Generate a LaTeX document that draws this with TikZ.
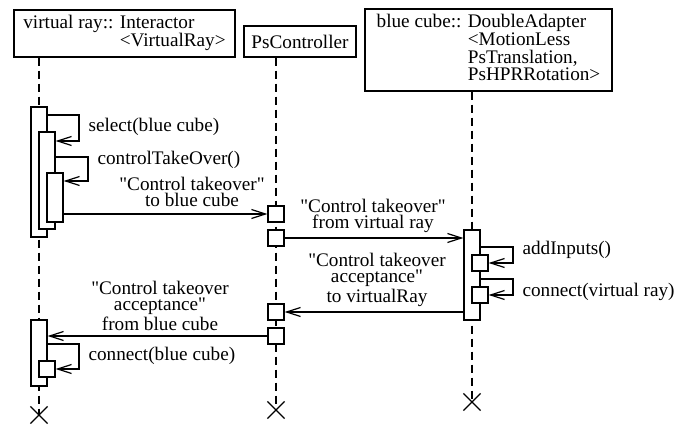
\documentclass[tikz,border=0pt]{standalone}
\usepackage{fontspec}
\setmainfont{Liberation Serif}
\usetikzlibrary{arrows.meta,shapes.misc}

\begin{document}
\begin{tikzpicture}[x=0.5pt, y=-0.5pt, line width=0.6pt,
    font={\fontsize{9.6}{8}\selectfont},
    obj/.style={draw, inner sep=0pt},
    actbar/.style={draw, fill=white, minimum width=8pt, inner sep=0pt},
    lifeline/.style={dash pattern=on 4pt off 2.5pt},
    kill/.style={draw, cross out, minimum size=8pt, inner sep=0pt},
    msg/.style={-{Straight Barb[length=7pt,width=4.5pt]}},
    lbl/.style={align=center, inner sep=0pt}]
    \useasboundingbox (0,0) rectangle (690,426);

    % objects
    \node[obj, minimum width=110.5pt, minimum height=23.5pt] (ray) at (124.5,33.5)
        {\begin{tabular}{@{}l@{ }l@{}}virtual ray::&Interactor\\&<VirtualRay>\end{tabular}};
    \node[obj, minimum width=56pt, minimum height=15.5pt] (ctl) at (300,41.5) {PsController};
    \node[obj, minimum width=123.5pt, minimum height=41pt] (cube) at (488.5,50)
        {\begin{tabular}{@{}l@{ }l@{}}blue cube::&DoubleAdapter\\&<MotionLess\\&PsTranslation,\\&PsHPRRotation>\end{tabular}};

    % lifelines
    \node[kill] (end1) at (39,415) {};
    \node[kill] (end2) at (276,410) {};
    \node[kill] (end3) at (472,402) {};
    \draw[lifeline] (ray.south -| end1) -- (end1.center);
    \draw[lifeline] (ctl.south -| end2) -- (end2.center);
    \draw[lifeline] (cube.south -| end3) -- (end3.center);

    % activations
    \node[actbar, minimum height=65pt] (a1) at (39,172) {};
    \node[actbar, minimum height=48.5pt] (a2) at (47,180.5) {};
    \node[actbar, minimum height=24.5pt] (a3) at (55,197.5) {};
    \node[actbar, minimum height=33pt] (a4) at (39,353) {};
    \node[actbar, minimum height=8pt] (a5) at (47,369) {};
    \node[actbar, minimum height=8pt] (p1) at (276,214) {};
    \node[actbar, minimum height=8pt] (p2) at (276,238) {};
    \node[actbar, minimum height=8pt] (p3) at (276,312) {};
    \node[actbar, minimum height=8pt] (p4) at (276,336) {};
    \node[actbar, minimum height=45pt] (b1) at (472,275) {};
    \node[actbar, minimum height=8pt] (b2) at (480,263) {};
    \node[actbar, minimum height=8pt] (b3) at (480,295) {};

    % messages
    \draw[msg] (a1.east |- 0,115) -| (79,141) -- (a2.east |- 0,141);
    \draw[msg] (a2.east |- 0,157) -| (88,181) -- (a3.east |- 0,181);
    \draw[msg] (a3.east |- p1) -- (p1.west);
    \draw[msg] (p2.east) -- (b1.west |- p2);
    \draw[msg] (b1.east |- 0,247) -| (513,263) -- (b2.east);
    \draw[msg] (b1.east |- 0,279) -| (513,295) -- (b3.east);
    \draw[msg] (b1.west |- p3) -- (p3.east);
    \draw[msg] (p4.west) -- (a4.east |- p4);
    \draw[msg] (a4.east |- 0,344) -| (79,369) -- (a5.east);

    % labels
    \node[lbl, anchor=west] (l1) at (88,127) {select(blue cube)};
    \node[lbl, anchor=west] (l2) at (97,160) {controlTakeOver()};
    \node[lbl] (l3) at (192,191.5) {\textquotedbl Control takeover\textquotedbl\\to blue cube};
    \node[lbl] (l4) at (373,215.5) {\textquotedbl Control takeover\textquotedbl\\from virtual ray};
    \node[lbl, anchor=west] (l5) at (522,250) {addInputs()};
    \node[lbl, anchor=west] (l6) at (522,292) {connect(virtual ray)};
    \node[lbl] (l7) at (377,280) {\textquotedbl Control takeover\\acceptance\textquotedbl\\to virtualRay};
    \node[lbl] (l8) at (160,306) {\textquotedbl Control takeover\\acceptance\textquotedbl\\from blue cube};
    \node[lbl, anchor=west] (l9) at (88,356) {connect(blue cube)};
\end{tikzpicture}
\end{document}
